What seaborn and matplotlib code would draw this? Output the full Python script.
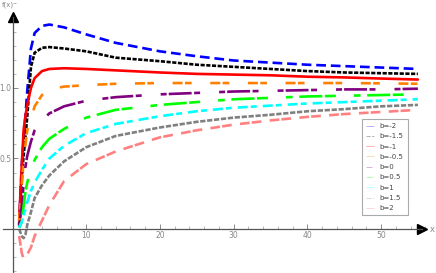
import numpy as np
import pandas as pd
import matplotlib
matplotlib.use("Agg")
import matplotlib.pyplot as plt
import seaborn as sns
from matplotlib.ticker import MultipleLocator

x_pts = [0.9, 1.25, 1.5, 1.75, 2, 2.5, 3, 4, 5, 7, 10, 14, 20, 25, 30, 35, 40, 45, 50, 55]

b_labels = ["b=-2", "b=-1.5", "b=-1", "b=-0.5", "b=0", "b=0.5", "b=1", "b=1.5", "b=2"]

f_bm20 = [0.03, 0.45, 0.62, 0.80, 0.98, 1.28, 1.39, 1.44, 1.45, 1.43, 1.38, 1.32, 1.26, 1.225, 1.195, 1.18, 1.165, 1.155, 1.145, 1.135]
f_bm15 = [0.03, 0.35, 0.52, 0.65, 0.80, 1.15, 1.25, 1.285, 1.29, 1.28, 1.26, 1.215, 1.19, 1.165, 1.15, 1.135, 1.12, 1.11, 1.105, 1.10]
f_bm10 = [0.06, 0.45, 0.70, 0.80, 0.88, 1.00, 1.07, 1.12, 1.135, 1.14, 1.135, 1.125, 1.11, 1.10, 1.095, 1.09, 1.08, 1.075, 1.067, 1.06]
f_bm05 = [0.05, 0.30, 0.48, 0.60, 0.70, 0.78, 0.87, 0.95, 0.99, 1.01, 1.02, 1.03, 1.035, 1.035, 1.035, 1.035, 1.035, 1.035, 1.033, 1.03]
f_b00 = [0.02, 0.16, 0.32, 0.44, 0.52, 0.62, 0.70, 0.77, 0.82, 0.87, 0.91, 0.935, 0.955, 0.965, 0.975, 0.98, 0.985, 0.99, 0.99, 0.995]
f_b05 = [0.01, 0.05, 0.16, 0.27, 0.33, 0.42, 0.49, 0.58, 0.64, 0.71, 0.79, 0.845, 0.88, 0.90, 0.92, 0.93, 0.94, 0.945, 0.95, 0.955]
f_b10 = [0.01, 0.05, 0.10, 0.14, 0.19, 0.27, 0.33, 0.42, 0.50, 0.59, 0.68, 0.745, 0.80, 0.835, 0.86, 0.875, 0.89, 0.90, 0.91, 0.92]
f_b15 = [0.0, -0.05, -0.065, -0.04, 0.03, 0.12, 0.22, 0.31, 0.38, 0.48, 0.58, 0.66, 0.72, 0.76, 0.79, 0.81, 0.835, 0.85, 0.87, 0.88]
f_b20 = [-0.05, -0.17, -0.21, -0.20, -0.18, -0.13, -0.05, 0.06, 0.17, 0.34, 0.46, 0.55, 0.65, 0.70, 0.74, 0.77, 0.795, 0.815, 0.83, 0.845]

series = [f_bm20, f_bm15, f_bm10, f_bm05, f_b00, f_b05, f_b10, f_b15, f_b20]

colors = ["#0000ff", "#000000", "#ff0000", "#ff8000", "#800080",
          "#00ff00", "#00ffff", "#808080", "#ff8080"]
# dash patterns in points (not scaled by line width)
dash_styles = [(7, 3.5), (3, 1.1), "", (7.2, 1.7, 4.8, 13.4),
               (4.3, 1.5, 16.5, 1.8, 4.3, 13.7),
               (4.8, 4.8, 16.6, 1.8, 7.9, 13),
               (7.2, 2.2, 4.3, 4.3), (3.8, 1.2), (7, 1.5, 7, 6)]

rows = []
for lab, vals in zip(b_labels, series):
    for xv, yv in zip(x_pts, vals):
        rows.append({"x": xv, "f": yv, "b": lab})
df = pd.DataFrame(rows)

sns.set_style("white")
plt.rcParams["lines.scale_dashes"] = False

fig = plt.figure(figsize=(4.36, 2.73), dpi=100)
ax = fig.add_axes([0, 0, 1, 1])

sns.lineplot(data=df, x="x", y="f", hue="b", style="b",
             hue_order=b_labels, style_order=b_labels,
             palette=dict(zip(b_labels, colors)),
             dashes=dict(zip(b_labels, dash_styles)),
             estimator=None, sort=False, linewidth=1.9, ax=ax)

ax.set_xlim(-1.7, 57.46)
ax.set_ylim(-0.312, 1.624)

# axes through the origin, Mathematica style
for s in ["top", "right"]:
    ax.spines[s].set_visible(False)
ax.spines["left"].set_position(("data", 0))
ax.spines["bottom"].set_position(("data", 0))
ax.spines["left"].set_bounds(-0.31, 1.50)
ax.spines["bottom"].set_bounds(-1.3, 55.6)
for s in ["left", "bottom"]:
    ax.spines[s].set_color("#555555")
    ax.spines[s].set_linewidth(0.9)

ax.plot([55.6], [0], marker=">", color="black", markersize=7, clip_on=False)
ax.plot([0], [1.50], marker="^", color="black", markersize=7, clip_on=False)

ax.xaxis.set_minor_locator(MultipleLocator(2))
ax.yaxis.set_minor_locator(MultipleLocator(0.1))
ax.set_xticks([10, 20, 30, 40, 50])
ax.set_yticks([0.5, 1.0])
ax.set_yticklabels(["0.5", "1.0"])
ax.tick_params(axis="both", which="major", direction="in", length=3.5,
               width=0.6, color="#777777", labelsize=5.5, labelcolor="#888888", pad=1.5)
ax.tick_params(axis="both", which="minor", direction="in", length=2,
               width=0.5, color="#999999")
ax.tick_params(axis="x", which="both", bottom=True)
ax.tick_params(axis="y", which="both", left=True, pad=1)
ax.set_xlabel("")
ax.set_ylabel("")

ax.text(2 / 436, 1 - 1 / 273, "f(x)", transform=ax.transAxes, fontsize=5,
        color="#888888", ha="left", va="top")
ax.text(435 / 436, 1 - 229 / 273, "x", transform=ax.transAxes,
        fontsize=6, color="#888888", ha="right", va="center")

handles, labels = ax.get_legend_handles_labels()
for h in handles:
    h.set_linewidth(0.6)
    h.set_alpha(0.35)
leg = ax.legend(handles, labels, loc="upper left",
                bbox_to_anchor=(0.823, 0.209, 0.12, 0.366), mode="expand",
                fontsize=5, labelspacing=0.62, handlelength=1.2,
                handletextpad=0.8, borderpad=0.5, fancybox=False,
                framealpha=1, edgecolor="#aaaaaa")
leg.get_frame().set_linewidth(0.8)
for t in leg.get_texts():
    t.set_color("#444444")

fig.savefig("out.png", dpi=100)
